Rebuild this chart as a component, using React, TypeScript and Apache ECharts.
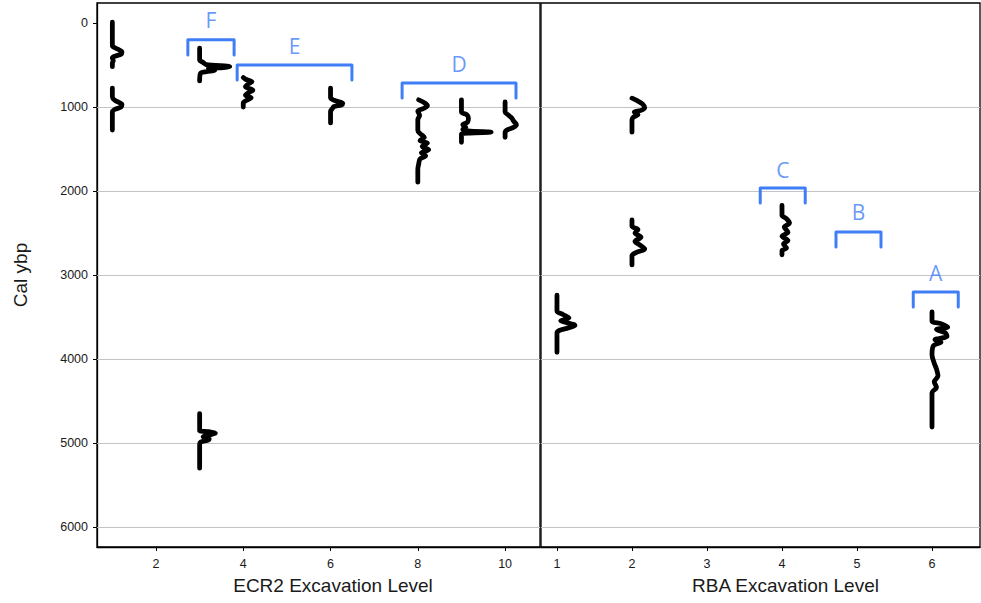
import React, { useEffect, useRef } from "react";
import * as echarts from "echarts";

// ---- axis ticks ----
const yTicks = [0, 1000, 2000, 3000, 4000, 5000, 6000];
const gridValues = [1000, 2000, 3000, 4000, 5000, 6000];
const ecr2Ticks = [2, 4, 6, 8, 10];
const rbaTicks = [1, 2, 3, 4, 5, 6];

// ---- density curves: [offset from level, cal ybp] ----
const ecr2L1a = [[0, -10], [0, 270], [0.08, 300], [0.22, 345], [0.2, 370], [0.06, 395], [0, 415], [0.02, 450], [0, 480], [0, 520]];
const ecr2L1b = [[0, 775], [0, 880], [0.06, 920], [0.22, 970], [0.2, 1000], [0.05, 1030], [0, 1060], [0, 1275]];
const ecr2L3a = [[0, 300], [0, 440], [0.08, 470], [0.15, 495], [0.69, 520], [0.55, 530], [0.2, 540], [0.35, 560], [0.15, 580], [0.02, 600], [0, 690]];
const ecr2L3b = [[0, 4650], [0, 4850], [0.2, 4865], [0.36, 4885], [0.25, 4900], [0.08, 4925], [0.22, 4950], [0.2, 4965], [0.02, 4990], [0, 5020], [0, 5300]];
const ecr2L4 = [[0, 650], [0.05, 670], [0.2, 700], [0.1, 730], [0.05, 760], [0.22, 800], [0.12, 830], [0.05, 860], [0.18, 890], [0.08, 920], [0, 950], [0, 1000]];
const ecr2L6 = [[0, 775], [0, 890], [0.08, 920], [0.28, 955], [0.25, 975], [0.08, 995], [0.04, 1020], [0, 1050], [0, 1190]];
const ecr2L8 = [[0.02, 915], [0.15, 950], [0.22, 985], [0.12, 1020], [0, 1050], [0.04, 1100], [0, 1150], [0, 1280], [0.06, 1320], [0.15, 1360], [0.05, 1400], [0.22, 1430], [0.1, 1470], [0.25, 1510], [0.08, 1545], [0.18, 1580], [0.05, 1620], [0.02, 1680], [0, 1740], [0, 1895]];
const ecr2L9 = [[0, 915], [0, 1060], [0.12, 1090], [0.16, 1130], [0.14, 1180], [0.03, 1210], [0.1, 1240], [0.03, 1265], [0.15, 1285], [0.68, 1300], [0.2, 1310], [0, 1325], [0, 1420]];
const ecr2L10 = [[0, 940], [0, 1060], [0.06, 1090], [0.15, 1130], [0.2, 1170], [0.26, 1210], [0.2, 1240], [0.06, 1270], [0, 1300], [0, 1360]];

const rbaL1 = [[0, 3240], [0, 3430], [0.08, 3470], [0.16, 3510], [0.05, 3545], [0.12, 3565], [0.24, 3600], [0.15, 3630], [0.03, 3660], [0, 3690], [0, 3920]];
const rbaL2a = [[0, 895], [0.07, 925], [0.14, 965], [0.17, 1010], [0.12, 1040], [0.03, 1060], [0.08, 1090], [0.02, 1120], [0, 1150], [0, 1300]];
const rbaL2b = [[0, 2345], [0, 2420], [0.08, 2460], [0.04, 2500], [0.12, 2550], [0.04, 2600], [0.1, 2640], [0.17, 2690], [0.06, 2730], [0, 2770], [0, 2880]];
const rbaL4 = [[0, 2170], [0, 2290], [0.06, 2330], [0.1, 2380], [0.03, 2430], [0.08, 2490], [0, 2540], [0.08, 2590], [0.02, 2630], [0.06, 2680], [0, 2710], [0, 2760]];
const rbaL6 = [[0, 3440], [0, 3550], [0.12, 3580], [0.21, 3620], [0.06, 3650], [0.18, 3690], [0.2, 3730], [0.04, 3770], [0.12, 3800], [0.02, 3840], [0, 3950], [0.03, 4050], [0.06, 4120], [0.08, 4200], [0.03, 4270], [0.06, 4340], [0, 4400], [0, 4810]];

const ecr2Levels = [1, 1, 3, 3, 4, 6, 8, 9, 10];
const ecr2Curves = [ecr2L1a, ecr2L1b, ecr2L3a, ecr2L3b, ecr2L4, ecr2L6, ecr2L8, ecr2L9, ecr2L10];
const rbaLevels = [1, 2, 2, 4, 6];
const rbaCurves = [rbaL1, rbaL2a, rbaL2b, rbaL4, rbaL6];

// ---- phase brackets ----
const ecr2BracketNames = ["F", "E", "D"];
const ecr2BracketFrom = [2.73, 3.86, 7.64];
const ecr2BracketTo = [3.79, 6.49, 10.25];
const ecr2BracketTop = [200, 500, 714];
const ecr2LabelY = [-36, 274, 488];

const rbaBracketNames = ["C", "B", "A"];
const rbaBracketFrom = [3.71, 4.72, 5.75];
const rbaBracketTo = [4.31, 5.32, 6.35];
const rbaBracketTop = [1964, 2488, 3202];
const rbaLabelY = [1750, 2250, 2976];

const LEG = 180;
const BLUE = "#3F7EF6";
const FONT = "Liberation Sans, Arial, sans-serif";

function curveSeries(levels: number[], curves: number[][][], gi: number) {
  return curves.map((c, i) => ({
    type: "line",
    xAxisIndex: gi,
    yAxisIndex: gi,
    data: c.map(([o, y]) => [levels[i] + o, y]),
    showSymbol: false,
    smooth: 0.3,
    lineStyle: { color: "#000", width: 4.8, cap: "round", join: "round" },
    z: 5,
    silent: true,
  }));
}

function bracketSeries(names: string[], from: number[], to: number[], top: number[], ly: number[], gi: number) {
  const s: any[] = names.map((_, i) => ({
    type: "line",
    xAxisIndex: gi,
    yAxisIndex: gi,
    data: [
      [from[i], top[i] + LEG],
      [from[i], top[i]],
      [to[i], top[i]],
      [to[i], top[i] + LEG],
    ],
    showSymbol: false,
    lineStyle: { color: BLUE, width: 3, cap: "round", join: "round" },
    z: 6,
    silent: true,
  }));
  s.push({
    type: "scatter",
    xAxisIndex: gi,
    yAxisIndex: gi,
    symbolSize: 1,
    itemStyle: { color: "rgba(0,0,0,0)" },
    data: names.map((n, i) => [(from[i] + to[i]) / 2, ly[i], n]),
    label: {
      show: true,
      position: "inside",
      formatter: (p: any) => p.data[2],
      fontSize: 21,
      color: BLUE,
      fontFamily: "Open Sans, Noto Sans, sans-serif",
    },
    z: 6,
    silent: true,
  });
  return s;
}

function gridSeries(gi: number) {
  return {
    type: "line",
    xAxisIndex: gi,
    yAxisIndex: gi,
    data: [],
    showSymbol: false,
    z: 1,
    silent: true,
    markLine: {
      silent: true,
      symbol: "none",
      label: { show: false },
      lineStyle: { color: "#c4c4c4", width: 1.2, type: "solid" },
      data: gridValues.map((v) => ({ yAxis: v })),
    },
  };
}

const axisCommon = {
  axisLine: { show: true, onZero: false, lineStyle: { color: "#000", width: 1.3 } },
  splitLine: { show: false },
};

const titleStyle = { fontSize: 19, color: "#1a1a1a", fontFamily: FONT };
const tickStyle = { fontSize: 12.5, color: "#1a1a1a", fontFamily: FONT };

export default function App() {
  const ref = useRef<HTMLDivElement>(null);
  useEffect(() => {
    if (!ref.current) return;
    const chart = echarts.init(ref.current, undefined, { renderer: "svg" });
    chart.setOption({
      animation: false,
      backgroundColor: "#fff",
      grid: [
        { left: 97, top: 3, width: 443, height: 544, show: true, borderColor: "#000", borderWidth: 1.3 },
        { left: 541, top: 3, width: 439, height: 544, show: true, borderColor: "#000", borderWidth: 1.3 },
      ],
      xAxis: [
        {
          type: "value",
          gridIndex: 0,
          min: 0.648,
          max: 10.8,
          ...axisCommon,
          name: "ECR2 Excavation Level",
          nameLocation: "middle",
          nameGap: 29,
          nameTextStyle: { ...titleStyle, padding: [0, 0, 0, 29] },
          axisTick: { show: true, length: 4, customValues: ecr2Ticks, lineStyle: { color: "#000" } },
          axisLabel: { customValues: ecr2Ticks, margin: 10, ...tickStyle },
        },
        {
          type: "value",
          gridIndex: 1,
          min: 0.787,
          max: 6.64,
          ...axisCommon,
          name: "RBA Excavation Level",
          nameLocation: "middle",
          nameGap: 29,
          nameTextStyle: { ...titleStyle, padding: [0, 0, 0, 50] },
          axisTick: { show: true, length: 4, customValues: rbaTicks, lineStyle: { color: "#000" } },
          axisLabel: { customValues: rbaTicks, margin: 10, ...tickStyle },
        },
      ],
      yAxis: [
        {
          type: "value",
          gridIndex: 0,
          inverse: true,
          min: -238,
          max: 6238,
          ...axisCommon,
          name: "Cal ybp",
          nameLocation: "middle",
          nameRotate: 90,
          nameGap: 67,
          nameTextStyle: titleStyle,
          axisTick: { show: true, length: 4, customValues: yTicks, lineStyle: { color: "#000" } },
          axisLabel: {
            customValues: yTicks,
            margin: 9,
            formatter: (v: number) => String(v),
            ...tickStyle,
          },
        },
        {
          type: "value",
          gridIndex: 1,
          inverse: true,
          min: -238,
          max: 6238,
          axisLine: { show: false },
          axisTick: { show: false },
          axisLabel: { show: false },
          splitLine: { show: false },
        },
      ],
      series: [
        gridSeries(0),
        gridSeries(1),
        ...curveSeries(ecr2Levels, ecr2Curves, 0),
        ...curveSeries(rbaLevels, rbaCurves, 1),
        ...bracketSeries(ecr2BracketNames, ecr2BracketFrom, ecr2BracketTo, ecr2BracketTop, ecr2LabelY, 0),
        ...bracketSeries(rbaBracketNames, rbaBracketFrom, rbaBracketTo, rbaBracketTop, rbaLabelY, 1),
      ],
    });
    return () => chart.dispose();
  }, []);
  return (
    <div
      ref={ref}
      style={{ position: "absolute", left: 0, top: 0, width: 981, height: 603, background: "#fff" }}
    />
  );
}
